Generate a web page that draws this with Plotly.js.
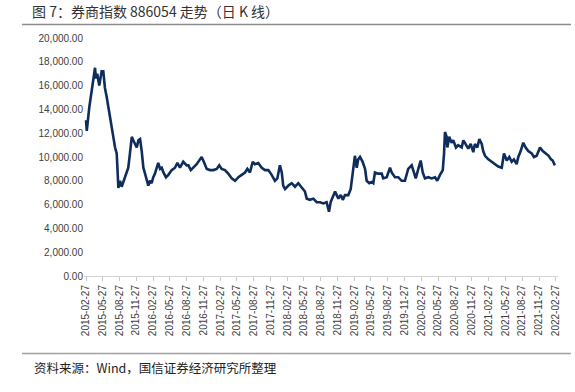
<!DOCTYPE html>
<html>
<head>
<meta charset="utf-8">
<script src="https://cdn.plot.ly/plotly-3.0.1.min.js"></script>
<style>
html,body{margin:0;padding:0;background:#fff;}
#chart{width:575px;height:392px;}
</style>
</head>
<body>
<div id="chart"></div>
<script>
var dates = [
"2015-02-27","2015-03-03","2015-03-17","2015-03-30","2015-04-08","2015-04-17","2015-04-22","2015-04-29","2015-05-10","2015-05-18",
"2015-05-23","2015-06-01","2015-06-10","2015-06-20","2015-06-28","2015-07-08","2015-07-17","2015-07-26","2015-08-04","2015-08-13",
"2015-08-18","2015-08-22","2015-08-31","2015-09-09","2015-09-18","2015-10-03","2015-10-15","2015-10-24","2015-11-03","2015-11-11",
"2015-11-21","2015-11-30","2015-12-09","2015-12-18","2015-12-27","2016-01-05","2016-01-14","2016-01-23","2016-02-01","2016-02-10",
"2016-02-19","2016-02-28","2016-03-08","2016-03-18","2016-03-26","2016-04-05","2016-04-14","2016-04-23","2016-05-07","2016-05-20",
"2016-06-07","2016-06-25","2016-07-08","2016-07-22","2016-08-09","2016-08-28","2016-09-06","2016-09-19","2016-10-03","2016-10-21",
"2016-11-08","2016-11-17","2016-11-26","2016-12-15","2017-01-02","2017-01-20","2017-02-07","2017-02-21","2017-03-06","2017-03-24",
"2017-04-11","2017-04-30","2017-05-18","2017-06-05","2017-06-23","2017-07-11","2017-07-24","2017-08-07","2017-08-22","2017-09-03",
"2017-09-21","2017-10-10","2017-10-28","2017-11-15","2017-12-03","2017-12-21","2018-01-03","2018-01-17","2018-01-27","2018-02-04",
"2018-02-14","2018-03-04","2018-03-22","2018-04-09","2018-04-27","2018-05-15","2018-06-02","2018-06-12","2018-06-30","2018-07-18",
"2018-08-05","2018-08-23","2018-09-10","2018-09-28","2018-10-11","2018-10-20","2018-10-31","2018-11-13","2018-11-22","2018-12-01",
"2018-12-14","2018-12-25","2019-01-06","2019-01-24","2019-02-06","2019-02-13","2019-02-24","2019-03-01","2019-03-11","2019-03-19",
"2019-03-29","2019-04-12","2019-04-25","2019-05-04","2019-05-18","2019-05-31","2019-06-09","2019-06-18","2019-07-06","2019-07-25",
"2019-08-02","2019-08-21","2019-09-08","2019-09-17","2019-10-05","2019-10-23","2019-11-10","2019-11-28","2019-12-16","2020-01-04",
"2020-01-16","2020-01-26","2020-02-09","2020-02-22","2020-03-04","2020-03-16","2020-04-03","2020-04-22","2020-05-10","2020-05-22",
"2020-06-06","2020-06-21","2020-06-28","2020-07-03","2020-07-12","2020-07-16","2020-07-26","2020-08-08","2020-08-17","2020-09-01",
"2020-09-13","2020-10-02","2020-10-11","2020-10-25","2020-11-07","2020-11-20","2020-12-04","2020-12-13","2020-12-26","2021-01-06",
"2021-01-19","2021-01-27","2021-02-06","2021-02-24","2021-03-14","2021-04-01","2021-04-19","2021-05-08","2021-05-20","2021-06-04",
"2021-06-18","2021-07-01","2021-07-13","2021-07-28","2021-08-06","2021-08-19","2021-09-02","2021-09-15","2021-09-29","2021-10-18",
"2021-10-30","2021-11-14","2021-12-02","2021-12-17","2022-01-04","2022-01-18","2022-01-31","2022-02-09","2022-02-21"
];
var indexValues = [
13100,12200,14200,15600,16700,17500,16600,17000,16000,16600,
17200,17200,15800,15000,14200,13100,12500,11400,10800,10300,
8600,7400,8000,7500,7900,8600,9100,10300,11700,11400,
11100,10800,11400,11500,10500,9100,8600,8000,7600,8000,
7800,8300,8600,9100,9500,9000,9100,8700,8300,8500,
8900,9100,9500,9100,9600,9300,9300,8900,9100,9400,
9800,10000,9700,9000,8900,8900,9000,9300,9000,8900,
8600,8200,8000,8300,8500,8700,9000,8700,9600,9400,
9500,9100,8900,8900,8500,8000,8200,9300,8700,7600,
7300,7600,7800,7500,7800,7400,7100,6500,6400,6500,
6200,6200,6100,6200,5400,6200,6600,7100,6800,6500,
6800,6400,6800,6800,7300,8300,9600,10100,9100,9800,
10000,9600,9000,8000,7800,7900,7800,8700,8600,8600,
8200,8300,9100,8700,8300,8300,8000,8000,9000,9300,
8700,8200,9000,9700,8700,8200,8300,8200,8300,8000,
8500,8900,10300,12100,11700,10800,11700,11200,11400,10800,
11000,10800,11400,11000,10700,11100,10400,11100,10800,11500,
11100,10500,10100,9800,9600,9400,9200,9100,10300,9700,
10000,9600,9800,9400,10000,10500,11200,10800,10500,10300,
10000,10100,10800,10500,10300,10100,9800,9700,9300
];
var tickDates = [
"2015-02-27","2015-05-27","2015-08-27","2015-11-27","2016-02-27","2016-05-27","2016-08-27","2016-11-27",
"2017-02-27","2017-05-27","2017-08-27","2017-11-27","2018-02-27","2018-05-27","2018-08-27","2018-11-27",
"2019-02-27","2019-05-27","2019-08-27","2019-11-27","2020-02-27","2020-05-27","2020-08-27","2020-11-27",
"2021-02-27","2021-05-27","2021-08-27","2021-11-27","2022-02-27"
];
var yTicks = [0,2000,4000,6000,8000,10000,12000,14000,16000,18000,20000];
var titleText = "图 7：券商指数 886054 走势（日 K 线）";
var sourceText = "资料来源：Wind，国信证券经济研究所整理";

// plot area pixel geometry
var L = 84, R = 558, T = 38, B = 276;
function px(x){ return (x - L) / (R - L); }
function py(y){ return (B - y) / (B - T); }

var trace = {
  x: dates, y: indexValues, type: 'scatter', mode: 'lines',
  line: {color: '#0f2d5c', width: 2.6},
  hoverinfo: 'skip'
};

var layout = {
  width: 575, height: 392,
  margin: {l: L, r: 575 - R, t: T, b: 392 - B, pad: 0},
  paper_bgcolor: '#ffffff', plot_bgcolor: '#ffffff',
  showlegend: false,
  font: {family: 'Liberation Sans, Arial, sans-serif', size: 10, color: '#404040'},
  title: {
    text: titleText, xref: 'container', yref: 'container',
    x: 32/575, xanchor: 'left', y: 1 - 12.5/392, yanchor: 'middle',
    font: {family: 'Noto Sans CJK SC, sans-serif', size: 14, color: '#333333'}
  },
  xaxis: {
    type: 'date',
    range: ['2015-02-16', '2022-03-10'],
    tickmode: 'array', tickvals: tickDates, ticktext: tickDates,
    tickangle: -90,
    ticks: 'outside', ticklen: 4, tickcolor: '#c8c8c8', tickwidth: 1,
    showline: true, linecolor: '#d4d4d4', linewidth: 1,
    showgrid: false, zeroline: false,
    tickfont: {family: 'Liberation Sans, Arial, sans-serif', size: 10, color: '#404040'}
  },
  yaxis: {
    range: [0, 20000],
    tickmode: 'array', tickvals: yTicks,
    tickformat: ',.2f',
    showline: false, showgrid: false, zeroline: false, ticks: '',
    tickfont: {family: 'Liberation Sans, Arial, sans-serif', size: 10, color: '#404040'}
  },
  shapes: [
    {type: 'line', xref: 'paper', yref: 'paper', x0: px(22), x1: px(571), y0: py(24.5), y1: py(24.5),
     line: {color: '#8c8c8c', width: 1.5}},
    {type: 'line', xref: 'paper', yref: 'paper', x0: px(22), x1: px(571), y0: py(353.5), y1: py(353.5),
     line: {color: '#a0a0a0', width: 1.5}}
  ],
  annotations: [
    {text: sourceText, xref: 'paper', yref: 'paper', x: px(32), y: py(367), xanchor: 'left', yanchor: 'middle',
     showarrow: false, font: {family: 'Noto Sans CJK SC, sans-serif', size: 12.5, color: '#222222'}}
  ]
};

Plotly.newPlot('chart', [trace], layout, {displayModeBar: false, staticPlot: true});
</script>
</body>
</html>
